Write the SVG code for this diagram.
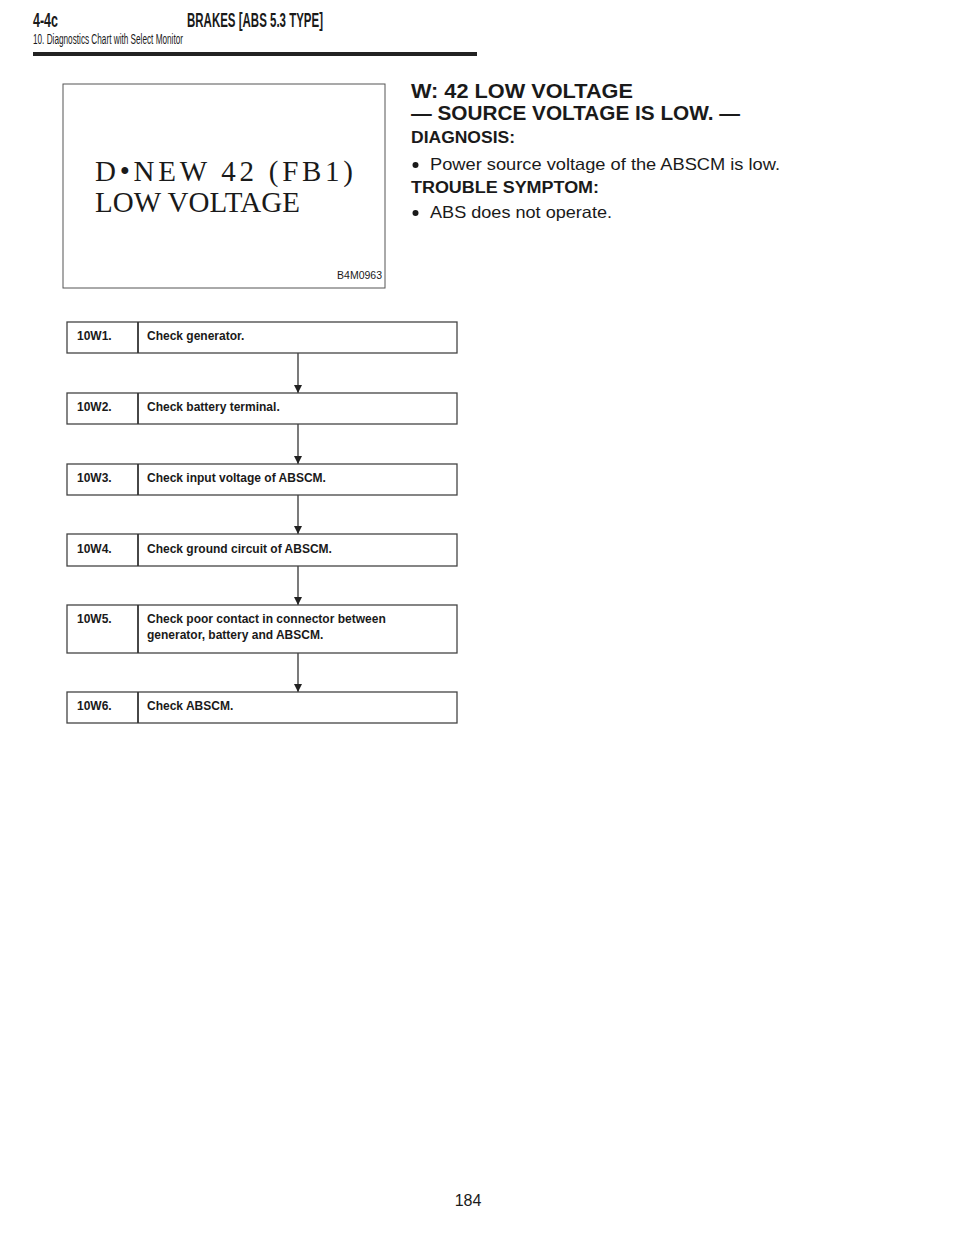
<svg xmlns="http://www.w3.org/2000/svg" width="960" height="1242" viewBox="0 0 960 1242">
<style>
.hd{font-family:"Liberation Sans",Arial,sans-serif;font-weight:bold;fill:#1a1a1a}
.sub{font-family:"Liberation Sans",Arial,sans-serif;fill:#1a1a1a}
.ser{font-family:"Liberation Serif","Times New Roman",serif;fill:#1a1a1a}
.body{font-family:"Liberation Sans",Arial,sans-serif;fill:#1a1a1a}
.bx{fill:#fff;stroke:#444;stroke-width:1.3}
.dv{stroke:#333;stroke-width:1.8}
.ft{font-family:"Liberation Sans",Arial,sans-serif;font-weight:bold;font-size:12px;fill:#1a1a1a}
.cn{stroke:#333;stroke-width:1.3;fill:none}
</style>
<defs>
<marker id="ah" markerWidth="8" markerHeight="8" refX="8" refY="4" orient="auto" markerUnits="userSpaceOnUse">
<path d="M0,0 L8,4 L0,8 Z" fill="#222"/>
</marker>
</defs>
<rect width="960" height="1242" fill="#fff"/>
<g id="header">
<text class="hd" x="33" y="27" font-size="20" textLength="25" lengthAdjust="spacingAndGlyphs">4-4c</text>
<text class="hd" x="187" y="27" font-size="20" textLength="136" lengthAdjust="spacingAndGlyphs">BRAKES [ABS 5.3 TYPE]</text>
<text class="sub" x="33" y="44" font-size="14" textLength="150" lengthAdjust="spacingAndGlyphs">10. Diagnostics Chart with Select Monitor</text>
<rect x="33" y="52" width="444" height="4" fill="#222"/>
</g>
<g id="screen">
<rect x="63" y="84" width="322" height="204" fill="#fff" stroke="#555" stroke-width="1"/>
<text class="ser" x="95" y="181" font-size="29" textLength="258" lengthAdjust="spacing">D•NEW 42 (FB1)</text>
<text class="ser" x="95" y="212" font-size="29" textLength="205" lengthAdjust="spacing">LOW VOLTAGE</text>
<text class="body" x="382" y="279" font-size="10.5" text-anchor="end">B4M0963</text>
</g>
<g id="description">
<text class="hd" x="411" y="98" font-size="20" textLength="222" lengthAdjust="spacingAndGlyphs">W:  42 LOW VOLTAGE</text>
<text class="hd" x="411" y="120" font-size="20" textLength="329" lengthAdjust="spacingAndGlyphs">— SOURCE VOLTAGE IS LOW. —</text>
<text class="hd" x="411" y="143" font-size="16" textLength="104" lengthAdjust="spacingAndGlyphs">DIAGNOSIS:</text>
<circle cx="415.5" cy="165" r="3" fill="#1a1a1a"/>
<text class="body" x="430" y="170" font-size="16.5" textLength="350" lengthAdjust="spacingAndGlyphs">Power source voltage of the ABSCM is low.</text>
<text class="hd" x="411" y="193" font-size="16" textLength="188" lengthAdjust="spacingAndGlyphs">TROUBLE SYMPTOM:</text>
<circle cx="415.5" cy="213" r="3" fill="#1a1a1a"/>
<text class="body" x="430" y="218" font-size="16.5" textLength="182" lengthAdjust="spacingAndGlyphs">ABS does not operate.</text>
</g>
<g id="connectors">
<line class="cn" x1="298" y1="353" x2="298" y2="393" marker-end="url(#ah)"/>
<line class="cn" x1="298" y1="424" x2="298" y2="464" marker-end="url(#ah)"/>
<line class="cn" x1="298" y1="495" x2="298" y2="534" marker-end="url(#ah)"/>
<line class="cn" x1="298" y1="566" x2="298" y2="605" marker-end="url(#ah)"/>
<line class="cn" x1="298" y1="653" x2="298" y2="692" marker-end="url(#ah)"/>
</g>
<g id="n10W1">
<rect class="bx" x="67" y="322" width="390" height="31"/>
<line class="dv" x1="138" y1="322" x2="138" y2="353"/>
<text class="ft" x="77" y="340">10W1.</text>
<text class="ft" x="147" y="340">Check generator.</text>
</g>
<g id="n10W2">
<rect class="bx" x="67" y="393" width="390" height="31"/>
<line class="dv" x1="138" y1="393" x2="138" y2="424"/>
<text class="ft" x="77" y="411">10W2.</text>
<text class="ft" x="147" y="411">Check battery terminal.</text>
</g>
<g id="n10W3">
<rect class="bx" x="67" y="464" width="390" height="31"/>
<line class="dv" x1="138" y1="464" x2="138" y2="495"/>
<text class="ft" x="77" y="482">10W3.</text>
<text class="ft" x="147" y="482">Check input voltage of ABSCM.</text>
</g>
<g id="n10W4">
<rect class="bx" x="67" y="534" width="390" height="32"/>
<line class="dv" x1="138" y1="534" x2="138" y2="566"/>
<text class="ft" x="77" y="553">10W4.</text>
<text class="ft" x="147" y="553">Check ground circuit of ABSCM.</text>
</g>
<g id="n10W5">
<rect class="bx" x="67" y="605" width="390" height="48"/>
<line class="dv" x1="138" y1="605" x2="138" y2="653"/>
<text class="ft" x="77" y="623">10W5.</text>
<text class="ft" x="147" y="623">Check poor contact in connector between</text>
<text class="ft" x="147" y="639">generator, battery and ABSCM.</text>
</g>
<g id="n10W6">
<rect class="bx" x="67" y="692" width="390" height="31"/>
<line class="dv" x1="138" y1="692" x2="138" y2="723"/>
<text class="ft" x="77" y="710">10W6.</text>
<text class="ft" x="147" y="710">Check ABSCM.</text>
</g>
<g id="footer">
<text class="body" x="468" y="1206" font-size="16" text-anchor="middle">184</text>
</g>
</svg>
